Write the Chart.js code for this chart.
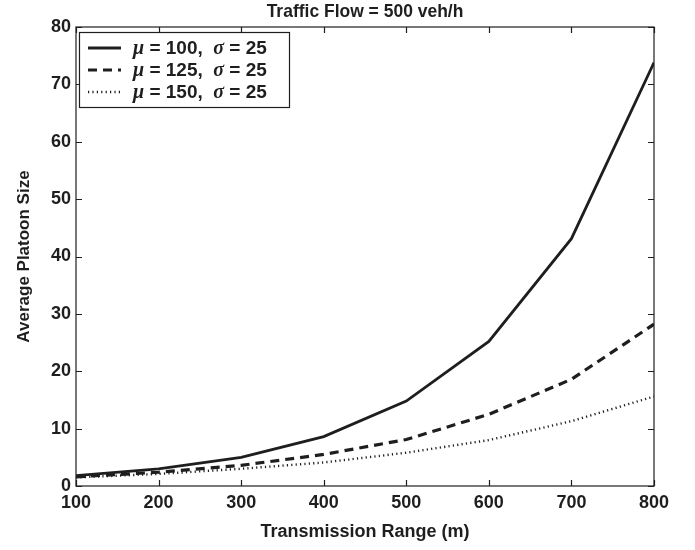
<!DOCTYPE html>
<html>
<head>
<meta charset="utf-8">
<script src="https://cdn.jsdelivr.net/npm/chart.js@4/dist/chart.umd.min.js"></script>
<style>
html,body{margin:0;padding:0;background:#fff;}
#wrap{width:695px;height:550px;position:relative;}
</style>
</head>
<body>
<div id="wrap"><canvas id="c" width="695" height="550"></canvas></div>
<script>
const ranges = [100, 200, 300, 400, 500, 600, 700, 800];
const mu100 = [1.8, 3.0, 5.0, 8.6, 14.8, 25.2, 43.1, 73.8];
const mu125 = [1.6, 2.4, 3.6, 5.5, 8.1, 12.5, 18.6, 28.2];
const mu150 = [1.5, 2.1, 3.0, 4.1, 5.8, 8.0, 11.3, 15.6];
const muValues = [100, 125, 150];
const sigmaValue = 25;
const yTicks = [0, 10, 20, 30, 40, 50, 60, 70, 80];
const titleText = 'Traffic Flow = 500 veh/h';
const xTitle = 'Transmission Range (m)';
const yTitle = 'Average Platoon Size';

const INK = '#1e1e1e';
const series = [mu100, mu125, mu150];
const styles = [
  {dash: [], width: 2.8},
  {dash: [9, 6], width: 3.2},
  {dash: [1.2, 3.2], width: 2.4}
];

const datasets = series.map((vals, i) => ({
  label: 'mu=' + muValues[i],
  data: ranges.map((x, j) => ({x: x, y: vals[j]})),
  borderColor: INK,
  borderWidth: styles[i].width,
  borderDash: styles[i].dash,
  pointRadius: 0,
  tension: 0,
  fill: false
}));

const framePlugin = {
  id: 'frame',
  afterDatasetsDraw(chart) {
    const {ctx, chartArea: a, scales} = chart;
    ctx.save();
    ctx.strokeStyle = INK;
    ctx.lineWidth = 1.2;
    ctx.strokeRect(a.left, a.top, a.right - a.left, a.bottom - a.top);
    const L = 6;
    ctx.beginPath();
    scales.x.ticks.forEach(t => {
      const px = Math.round(scales.x.getPixelForValue(t.value)) + 0.5;
      ctx.moveTo(px, a.bottom); ctx.lineTo(px, a.bottom - L);
      ctx.moveTo(px, a.top); ctx.lineTo(px, a.top + L);
    });
    scales.y.ticks.forEach(t => {
      const py = Math.round(scales.y.getPixelForValue(t.value)) + 0.5;
      ctx.moveTo(a.left, py); ctx.lineTo(a.left + L, py);
      ctx.moveTo(a.right, py); ctx.lineTo(a.right - L, py);
    });
    ctx.stroke();

    // legend
    const bx = a.left + 3, by = a.top + 5, bw = 210, bh = 75;
    ctx.fillStyle = '#fff';
    ctx.fillRect(bx, by, bw, bh);
    ctx.lineWidth = 1.2;
    ctx.strokeRect(bx + 0.5, by + 0.5, bw, bh);
    const rowY = [by + 16, by + 38, by + 60];
    chart.data.datasets.forEach((ds, i) => {
      const y = rowY[i];
      ctx.save();
      ctx.strokeStyle = ds.borderColor;
      ctx.lineWidth = ds.borderWidth;
      ctx.setLineDash(ds.borderDash);
      ctx.beginPath();
      ctx.moveTo(bx + 9, y); ctx.lineTo(bx + 42, y);
      ctx.stroke();
      ctx.restore();
      let x = bx + 54;
      ctx.fillStyle = INK;
      ctx.textBaseline = 'middle';
      const parts = [
        ['italic bold 20px "Liberation Serif", serif', '\u03BC'],
        ['bold 19px "Liberation Sans", Arial, sans-serif', ' = ' + muValues[i] + ',  '],
        ['italic bold 20px "Liberation Serif", serif', '\u03C3'],
        ['bold 19px "Liberation Sans", Arial, sans-serif', ' = ' + sigmaValue]
      ];
      parts.forEach(([f, s]) => {
        ctx.font = f;
        ctx.fillText(s, x, y + 1);
        x += ctx.measureText(s).width;
      });
    });

    // title
    ctx.font = 'bold 19px "Liberation Sans", Arial, sans-serif';
    ctx.textAlign = 'center';
    ctx.textBaseline = 'middle';
    ctx.fillStyle = INK;
    const cx = (a.left + a.right) / 2;
    ctx.translate(cx, 12);
    ctx.scale(0.92, 1);
    ctx.fillText(titleText, 0, 0);
    ctx.restore();
  }
};

new Chart(document.getElementById('c'), {
  type: 'line',
  data: {datasets},
  options: {
    responsive: false,
    animation: false,
    events: [],
    layout: {padding: {top: 27, right: 41, left: 0, bottom: 0}},
    plugins: {legend: {display: false}, tooltip: {enabled: false}, title: {display: false}},
    scales: {
      x: {
        type: 'linear', min: 100, max: 800,
        afterFit(s) { s.height = 64; },
        afterBuildTicks(s) { s.ticks = ranges.map(v => ({value: v})); },
        grid: {display: false, drawTicks: false},
        border: {display: false},
        ticks: {color: INK, padding: 6, maxRotation: 0,
          font: {family: '"Liberation Sans", Arial, sans-serif', size: 18, weight: 'bold'}},
        title: {display: true, text: xTitle, color: INK, padding: {top: 0, bottom: 7},
          font: {family: '"Liberation Sans", Arial, sans-serif', size: 18, weight: 'bold'}}
      },
      y: {
        type: 'linear', min: 0, max: 80,
        afterFit(s) { s.width = 76; },
        afterBuildTicks(s) { s.ticks = yTicks.map(v => ({value: v})); },
        grid: {display: false, drawTicks: false},
        border: {display: false},
        ticks: {color: INK, padding: 5,
          font: {family: '"Liberation Sans", Arial, sans-serif', size: 18, weight: 'bold'}},
        title: {display: true, text: yTitle, color: INK, padding: {top: 14, bottom: 0},
          font: {family: '"Liberation Sans", Arial, sans-serif', size: 17, weight: 'bold'}}
      }
    }
  },
  plugins: [framePlugin]
});
</script>
</body>
</html>
